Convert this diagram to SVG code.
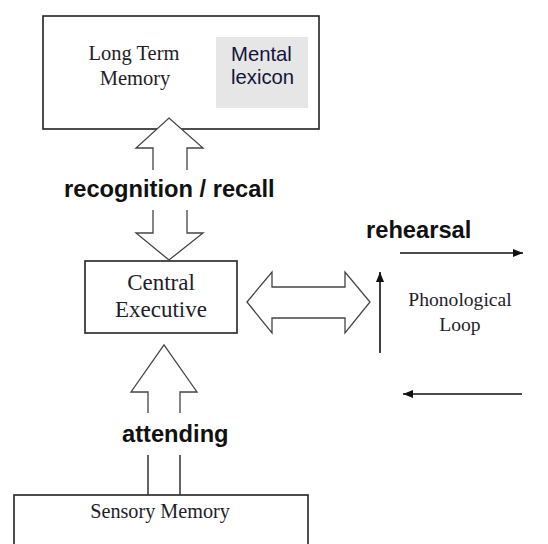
<svg xmlns="http://www.w3.org/2000/svg" width="548" height="544" viewBox="0 0 548 544">
  <defs>
    <marker id="head" viewBox="0 0 10 8" refX="10" refY="4" markerWidth="10" markerHeight="8" markerUnits="userSpaceOnUse" orient="auto">
      <path d="M0,0 L10,4 L0,8 Z" fill="#111"/>
    </marker>
    <style>
      .box { fill: #fff; stroke: #222; stroke-width: 1.6; }
      .hollow { fill: #fff; stroke: #444; stroke-width: 1.3; stroke-linejoin: miter; }
      .shaft { fill: none; stroke: #333; stroke-width: 1.5; }
      .serif { font-family: "Liberation Serif", "Times New Roman", serif; fill: #1e1e2a; text-anchor: middle; }
      .label { font-family: "Liberation Sans", Arial, sans-serif; font-weight: bold; fill: #111; font-size: 23.7px; }
      .line { fill: none; stroke: #111; stroke-width: 1.6; marker-end: url(#head); }
    </style>
  </defs>

  <rect width="548" height="544" fill="#fff"/>

  <!-- Long term memory store with the mental lexicon inside -->
  <g id="long-term-memory">
    <rect class="box" x="43" y="16" width="276" height="113"/>
    <text class="serif" x="134" y="60" font-size="20.5">Long Term</text>
    <text class="serif" x="135" y="85" font-size="20.5">Memory</text>
  </g>
  <g id="mental-lexicon">
    <rect x="216" y="37" width="92" height="71" fill="#e6e6e6"/>
    <text x="231" y="61" font-family="'Liberation Sans', Arial, sans-serif" font-size="20.3" fill="#14143c">Mental</text>
    <text x="231" y="84" font-family="'Liberation Sans', Arial, sans-serif" font-size="20.3" fill="#14143c">lexicon</text>
  </g>

  <g id="central-executive">
    <rect class="box" x="85" y="261" width="152" height="72"/>
    <text class="serif" x="161" y="290" font-size="23">Central</text>
    <text class="serif" x="161" y="317" font-size="23">Executive</text>
  </g>

  <g id="phonological-loop">
    <text class="serif" x="460" y="306" font-size="19.6">Phonological</text>
    <text class="serif" x="460" y="331" font-size="19.6">Loop</text>
  </g>

  <g id="sensory-memory">
    <rect class="box" x="14" y="495" width="294" height="60"/>
    <text class="serif" x="160" y="518" font-size="20.2">Sensory Memory</text>
  </g>

  <!-- Connectors -->
  <g id="connectors">
    <!-- recognition / recall: split double block arrow -->
    <path class="hollow" d="M153,170 L153,148 L136,148 L169,118 L203,148 L187,148 L187,170"/>
    <path class="hollow" d="M153,210 L153,233 L136,233 L169,260 L203,233 L187,233 L187,210"/>
    <text class="label" x="64" y="197">recognition / recall</text>

    <!-- central executive to phonological loop -->
    <path class="hollow" d="M247,302 L272,272 L272,287 L345,287 L345,272 L370,302 L345,333 L345,318 L272,318 L272,333 Z"/>

    <!-- attending: split block arrow -->
    <path class="hollow" d="M148,413 L148,392 L131,392 L164,345 L197,392 L180,392 L180,413"/>
    <path class="shaft" d="M148,455 L148,495 M180,455 L180,495"/>
    <text class="label" x="122" y="442">attending</text>

    <!-- rehearsal loop -->
    <text class="label" x="366" y="238">rehearsal</text>
    <line class="line" x1="400" y1="253" x2="523" y2="253"/>
    <line class="line" x1="380" y1="353" x2="380" y2="272"/>
    <line class="line" x1="522" y1="394" x2="403" y2="394"/>
  </g>
</svg>
